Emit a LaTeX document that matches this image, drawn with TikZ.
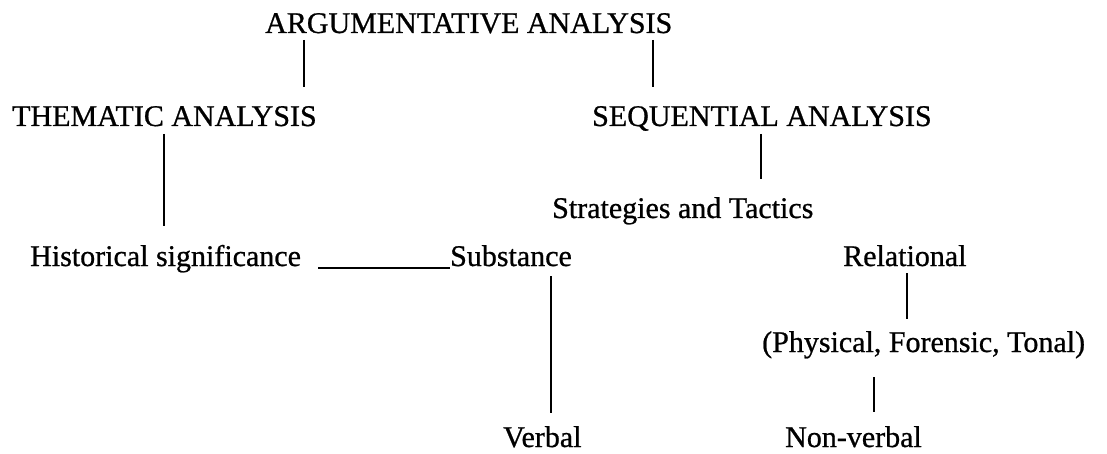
\documentclass[tikz,border=0pt]{standalone}
\usepackage{fontspec}
\setmainfont{Liberation Serif}
\newfontfamily\scanfont{Liberation Serif}[FakeBold=0.8]
\begin{document}
\begin{tikzpicture}[x=1pt,y=-1pt,
  txt/.style={anchor=base west,inner sep=0pt,font=\scanfont\fontsize{30}{36}\selectfont},
  conn/.style={line width=2pt}]
\useasboundingbox (0,0) rectangle (1107,454);
\node[txt] (arg) at (265,33) {ARGUMENTATIVE ANALYSIS};
\node[txt] (them) at (12,126) {THEMATIC ANALYSIS};
\node[txt] (seq) at (592,126) {SEQUENTIAL ANALYSIS};
\node[txt] (strat) at (552,218) {Strategies and Tactics};
\node[txt] (hist) at (30,266) {Historical significance};
\node[txt] (subst) at (450,266) {Substance};
\node[txt] (rel) at (843,266) {Relational};
\node[txt] (phys) at (762,352) {(Physical, Forensic, Tonal)};
\node[txt] (verb) at (503,447) {Verbal};
\node[txt] (nonv) at (785,447) {Non-verbal};
\coordinate (a1) at (304,40); \coordinate (a2) at (304,87);
\coordinate (b1) at (653,40); \coordinate (b2) at (653,87);
\coordinate (c1) at (164,134); \coordinate (c2) at (164,226);
\coordinate (d1) at (761,134); \coordinate (d2) at (761,179);
\coordinate (e1) at (907,273); \coordinate (e2) at (907,319);
\coordinate (f1) at (874,377); \coordinate (f2) at (874,412);
\coordinate (g1) at (551,276); \coordinate (g2) at (551,413);
\coordinate (h1) at (318,268); \coordinate (h2) at (450,268);
\draw[conn] (a1) -- (a2);
\draw[conn] (b1) -- (b2);
\draw[conn] (c1) -- (c2);
\draw[conn] (d1) -- (d2);
\draw[conn] (e1) -- (e2);
\draw[conn] (f1) -- (f2);
\draw[conn] (g1) -- (g2);
\draw[line width=1.6pt] (h1) -- (h2);
\end{tikzpicture}
\end{document}
